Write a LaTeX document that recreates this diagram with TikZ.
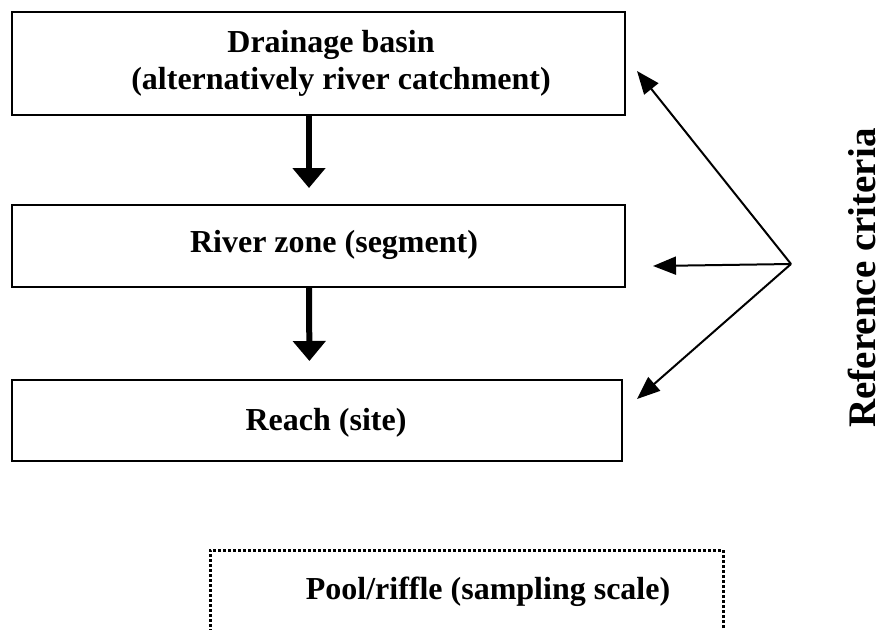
\documentclass[tikz,border=0pt]{standalone}
\usepackage{fontspec}
\setmainfont{Liberation Serif}
\usepackage{tikz}
\usetikzlibrary{positioning,calc,arrows.meta}

\begin{document}
\begin{tikzpicture}[x=1pt,y=-1pt,
		levelbox/.style={draw,line width=2pt,minimum width=613pt,inner sep=0pt},
		levellabel/.style={font=\fontsize{32}{37}\selectfont\bfseries,align=center,inner sep=0pt},
		downarrow/.style={line width=6pt,-{Triangle[width=32pt,length=20pt]}},
		critarrow/.style={line width=2pt,-{Triangle[width=18pt,length=23pt]}}]
			\clip (0,0) rectangle (882,629);
			
			% Boxes of the hierarchy
			\node[levelbox,minimum height=103pt] (basin) at (318.5,63.5) {};
			\node[levelbox,minimum height=82pt] (zone) at (318.5,246) {};
			\node[levelbox,minimum width=610pt,minimum height=81pt] (reach) at (317,420.5) {};
			\node[draw,line width=3pt,dash pattern=on 3pt off 2pt,minimum width=513pt,minimum height=100pt] (pool) at (466.5,600) {};
			
			% Texts
			\node[levellabel] (basinText) at (331,63) {Drainage basin\\\hspace*{20pt}(alternatively river catchment)};
			\node[levellabel] (zoneText) at (334,245) {River zone (segment)};
			\node[levellabel] (reachText) at (326,423) {Reach (site)};
			\node[levellabel] (poolText) at (488,592) {Pool/riffle (sampling scale)};
			\node[font=\fontsize{39}{47}\selectfont\bfseries,rotate=90,anchor=base,inner sep=0pt] (criteria) at (875,278) {Reference criteria};
			
			% Arrows down the levels
			\draw[downarrow,shorten >=16pt] ([xshift=-9.5pt]basin.south) -- ([xshift=-9.5pt]zone.north);
			\draw[downarrow,shorten >=18pt] ([xshift=-9.5pt]zone.south) -- ([xshift=-7.5pt]reach.north);
			
			% Arrows from the criteria
			\coordinate (hub) at (791,264);
			\draw[critarrow] (hub) -- ($(basin.east)+(11,7.5)$);
			\draw[critarrow] (hub) -- ($(zone.east)+(27,20)$);
			\draw[critarrow] (hub) -- ($(reach.east)+(14,-21.5)$);
		\end{tikzpicture}
\end{document}
